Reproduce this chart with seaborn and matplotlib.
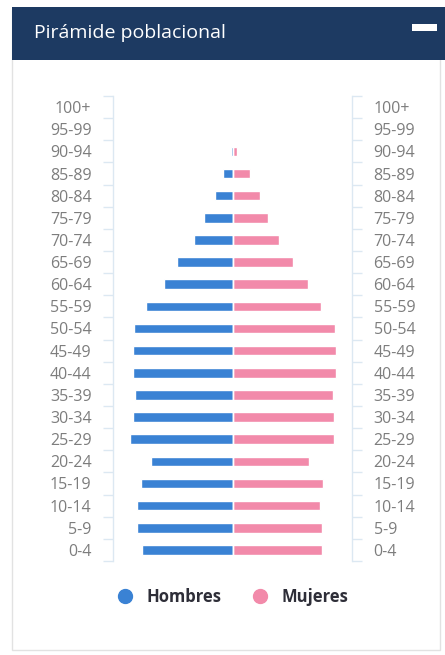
import numpy as np
import pandas as pd
import seaborn as sns
import matplotlib.pyplot as plt
from matplotlib.patches import Rectangle
from matplotlib.lines import Line2D

# Age groups, top to bottom
edades = ['100+', '95-99', '90-94', '85-89', '80-84', '75-79', '70-74', '65-69',
          '60-64', '55-59', '50-54', '45-49', '40-44', '35-39', '30-34', '25-29',
          '20-24', '15-19', '10-14', '5-9', '0-4']
hombres = [0, 0, 2, 10, 18, 29, 39, 56, 69, 87, 99, 100, 100, 98, 100, 103, 82, 92, 96, 96, 91]
mujeres = [0, 0, 4, 17, 27, 35, 46, 60, 75, 88, 102, 103, 103, 100, 101, 101, 76, 90, 87, 89, 89]

azul = '#3a82d4'
rosa = '#f28aaa'
navy = '#1d3a62'
gris = '#7d7d7d'
linea = '#dce8f2'

df = pd.DataFrame({'edad': edades, 'hombres': hombres, 'mujeres': mujeres})
df['hombres_neg'] = -df['hombres']

sns.set_style('white')
plt.rcParams['font.family'] = ['Open Sans', 'DejaVu Sans']

fig = plt.figure(figsize=(4.45, 6.55), dpi=100)
W, H = 445, 655

# Card border and header band
fig.patches.append(Rectangle((12 / W, 5 / H), 428 / W, 640 / H, transform=fig.transFigure,
                             facecolor='none', edgecolor='#e2e2e2', linewidth=1, zorder=-2))
fig.patches.append(Rectangle((12 / W, 1 - 60 / H), 1 - 12 / W, 53 / H, transform=fig.transFigure,
                             facecolor=navy, edgecolor='none', zorder=1))
fig.patches.append(Rectangle((412 / W, 1 - 31 / H), 25 / W, 7 / H, transform=fig.transFigure,
                             facecolor='white', edgecolor='none', zorder=2))
fig.text(34 / W, 1 - 33 / H, 'Pirámide poblacional', color='white', fontsize=14,
         va='center', ha='left', zorder=3)

ax = fig.add_axes([113 / W, 1 - 561 / H, 239 / W, 465 / H])
ax.set_zorder(5)
ax.patch.set_alpha(0)
sns.barplot(data=df, x='hombres_neg', y='edad', orient='h', color=azul, saturation=1,
            width=0.43, ax=ax)
sns.barplot(data=df, x='mujeres', y='edad', orient='h', color=rosa, saturation=1,
            width=0.43, ax=ax)
ax.axvline(0, color='white', linewidth=1.0)

ax.set_xlim(-119.5, 119.5)
ax.set_ylim(len(edades) - 0.5, -0.5)
ax.set_xlabel('')
ax.set_ylabel('')
ax.set_xticks([])
ax.set_yticks(range(len(edades)))
ax.set_yticklabels(edades)
ax.set_yticks(np.arange(-0.5, len(edades), 1), minor=True)
ax.tick_params(axis='y', which='major', left=False, right=False, labelleft=True,
               labelright=True, pad=12, labelsize=11.5, labelcolor=gris)
ax.tick_params(axis='y', which='minor', left=True, right=True, direction='out',
               length=7, width=1, color=linea)
ax.spines['top'].set_visible(False)
ax.spines['bottom'].set_visible(False)
for s in ['left', 'right']:
    ax.spines[s].set_color(linea)
    ax.spines[s].set_linewidth(1)

handles = [Line2D([], [], marker='o', linestyle='', markersize=10, color=azul, label='Hombres'),
           Line2D([], [], marker='o', linestyle='', markersize=10, color=rosa, label='Mujeres')]
fig.legend(handles=handles, loc='center', bbox_to_anchor=(228 / W, 1 - 597 / H), ncol=2,
           frameon=False, handletextpad=0.3, columnspacing=1.3,
           prop={'weight': 'bold', 'size': 12})
for t in fig.legends[0].get_texts():
    t.set_color('#2e2e38')

fig.savefig('out.png', dpi=100)
